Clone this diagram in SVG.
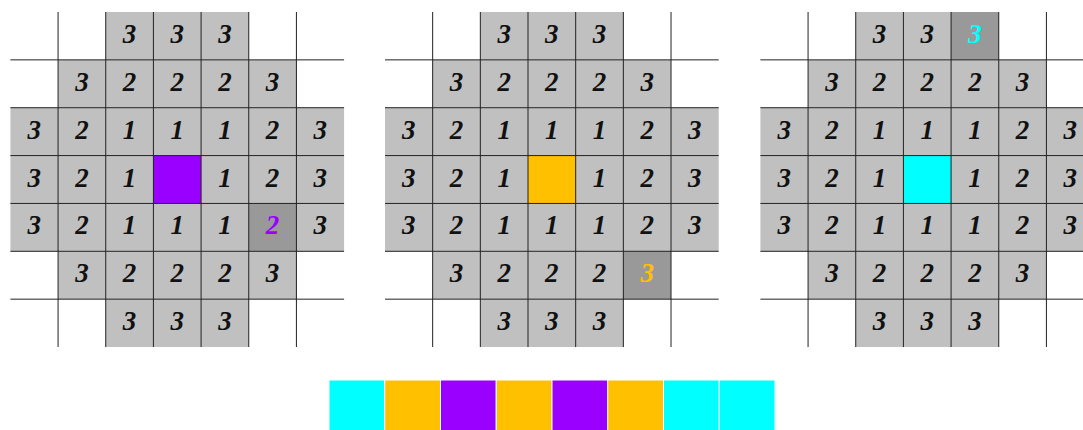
<svg xmlns="http://www.w3.org/2000/svg" width="1083" height="430" viewBox="0 0 1083 430">
<style>
.g{fill:#c0c0c0}
.hl{fill:#999999}
.ln{fill:none;stroke:#222;stroke-width:1}
.sq{stroke:#fff;stroke-width:1}
</style>
<defs>
<path id="gridlines" d="M47.67 0V335.02M95.34 0V335.02M143.01 0V335.02M190.68 0V335.02M238.35 0V335.02M286.02 0V335.02M0 47.86H333.69M0 95.72H333.69M0 143.58H333.69M0 191.44H333.69M0 239.3H333.69M0 287.16H333.69"/>
</defs>

<g id="grid1" transform="translate(10.4,12)">
<rect class="g" x="95.34" y="0" width="143.01" height="47.86"/>
<rect class="g" x="47.67" y="47.86" width="238.35" height="47.86"/>
<rect class="g" x="0" y="95.72" width="333.69" height="143.58"/>
<rect class="g" x="47.67" y="239.3" width="238.35" height="47.86"/>
<rect class="g" x="95.34" y="287.16" width="143.01" height="47.86"/>
<rect x="143.01" y="143.58" width="47.67" height="47.86" fill="#9900ff"/>
<rect class="hl" x="238.35" y="191.44" width="47.67" height="47.86"/>
<g font-family="Liberation Serif, Times New Roman, serif" font-style="italic" font-weight="bold" font-size="27" text-anchor="middle" fill="#111">
<text x="119.17" y="31">3</text><text x="166.84" y="31">3</text><text x="214.51" y="31">3</text>
<text x="71.5" y="78.86">3</text><text x="119.17" y="78.86">2</text><text x="166.84" y="78.86">2</text><text x="214.51" y="78.86">2</text><text x="262.18" y="78.86">3</text>
<text x="23.83" y="126.72">3</text><text x="71.5" y="126.72">2</text><text x="119.17" y="126.72">1</text><text x="166.84" y="126.72">1</text><text x="214.51" y="126.72">1</text><text x="262.18" y="126.72">2</text><text x="309.85" y="126.72">3</text>
<text x="23.83" y="174.58">3</text><text x="71.5" y="174.58">2</text><text x="119.17" y="174.58">1</text><text x="214.51" y="174.58">1</text><text x="262.18" y="174.58">2</text><text x="309.85" y="174.58">3</text>
<text x="23.83" y="222.44">3</text><text x="71.5" y="222.44">2</text><text x="119.17" y="222.44">1</text><text x="166.84" y="222.44">1</text><text x="214.51" y="222.44">1</text><text x="262.18" y="222.44" fill="#9900ff">2</text><text x="309.85" y="222.44">3</text>
<text x="71.5" y="270.3">3</text><text x="119.17" y="270.3">2</text><text x="166.84" y="270.3">2</text><text x="214.51" y="270.3">2</text><text x="262.18" y="270.3">3</text>
<text x="119.17" y="318.16">3</text><text x="166.84" y="318.16">3</text><text x="214.51" y="318.16">3</text>
</g>
<use href="#gridlines" class="ln"/>
</g>

<g id="grid2" transform="translate(385,12)">
<rect class="g" x="95.34" y="0" width="143.01" height="47.86"/>
<rect class="g" x="47.67" y="47.86" width="238.35" height="47.86"/>
<rect class="g" x="0" y="95.72" width="333.69" height="143.58"/>
<rect class="g" x="47.67" y="239.3" width="238.35" height="47.86"/>
<rect class="g" x="95.34" y="287.16" width="143.01" height="47.86"/>
<rect x="143.01" y="143.58" width="47.67" height="47.86" fill="#ffc000"/>
<rect class="hl" x="238.35" y="239.3" width="47.67" height="47.86"/>
<g font-family="Liberation Serif, Times New Roman, serif" font-style="italic" font-weight="bold" font-size="27" text-anchor="middle" fill="#111">
<text x="119.17" y="31">3</text><text x="166.84" y="31">3</text><text x="214.51" y="31">3</text>
<text x="71.5" y="78.86">3</text><text x="119.17" y="78.86">2</text><text x="166.84" y="78.86">2</text><text x="214.51" y="78.86">2</text><text x="262.18" y="78.86">3</text>
<text x="23.83" y="126.72">3</text><text x="71.5" y="126.72">2</text><text x="119.17" y="126.72">1</text><text x="166.84" y="126.72">1</text><text x="214.51" y="126.72">1</text><text x="262.18" y="126.72">2</text><text x="309.85" y="126.72">3</text>
<text x="23.83" y="174.58">3</text><text x="71.5" y="174.58">2</text><text x="119.17" y="174.58">1</text><text x="214.51" y="174.58">1</text><text x="262.18" y="174.58">2</text><text x="309.85" y="174.58">3</text>
<text x="23.83" y="222.44">3</text><text x="71.5" y="222.44">2</text><text x="119.17" y="222.44">1</text><text x="166.84" y="222.44">1</text><text x="214.51" y="222.44">1</text><text x="262.18" y="222.44">2</text><text x="309.85" y="222.44">3</text>
<text x="71.5" y="270.3">3</text><text x="119.17" y="270.3">2</text><text x="166.84" y="270.3">2</text><text x="214.51" y="270.3">2</text><text x="262.18" y="270.3" fill="#ffc000">3</text>
<text x="119.17" y="318.16">3</text><text x="166.84" y="318.16">3</text><text x="214.51" y="318.16">3</text>
</g>
<use href="#gridlines" class="ln"/>
</g>

<g id="grid3" transform="translate(760.4,12)">
<rect class="g" x="95.34" y="0" width="143.01" height="47.86"/>
<rect class="g" x="47.67" y="47.86" width="238.35" height="47.86"/>
<rect class="g" x="0" y="95.72" width="333.69" height="143.58"/>
<rect class="g" x="47.67" y="239.3" width="238.35" height="47.86"/>
<rect class="g" x="95.34" y="287.16" width="143.01" height="47.86"/>
<rect x="143.01" y="143.58" width="47.67" height="47.86" fill="#00ffff"/>
<rect class="hl" x="190.68" y="0" width="47.67" height="47.86"/>
<g font-family="Liberation Serif, Times New Roman, serif" font-style="italic" font-weight="bold" font-size="27" text-anchor="middle" fill="#111">
<text x="119.17" y="31">3</text><text x="166.84" y="31">3</text><text x="214.51" y="31" fill="#00ffff">3</text>
<text x="71.5" y="78.86">3</text><text x="119.17" y="78.86">2</text><text x="166.84" y="78.86">2</text><text x="214.51" y="78.86">2</text><text x="262.18" y="78.86">3</text>
<text x="23.83" y="126.72">3</text><text x="71.5" y="126.72">2</text><text x="119.17" y="126.72">1</text><text x="166.84" y="126.72">1</text><text x="214.51" y="126.72">1</text><text x="262.18" y="126.72">2</text><text x="309.85" y="126.72">3</text>
<text x="23.83" y="174.58">3</text><text x="71.5" y="174.58">2</text><text x="119.17" y="174.58">1</text><text x="214.51" y="174.58">1</text><text x="262.18" y="174.58">2</text><text x="309.85" y="174.58">3</text>
<text x="23.83" y="222.44">3</text><text x="71.5" y="222.44">2</text><text x="119.17" y="222.44">1</text><text x="166.84" y="222.44">1</text><text x="214.51" y="222.44">1</text><text x="262.18" y="222.44">2</text><text x="309.85" y="222.44">3</text>
<text x="71.5" y="270.3">3</text><text x="119.17" y="270.3">2</text><text x="166.84" y="270.3">2</text><text x="214.51" y="270.3">2</text><text x="262.18" y="270.3">3</text>
<text x="119.17" y="318.16">3</text><text x="166.84" y="318.16">3</text><text x="214.51" y="318.16">3</text>
</g>
<use href="#gridlines" class="ln"/>
</g>

<g id="strip">
<rect class="sq" x="329" y="380" width="55.75" height="51" fill="#00ffff"/>
<rect class="sq" x="384.75" y="380" width="55.75" height="51" fill="#ffc000"/>
<rect class="sq" x="440.5" y="380" width="55.75" height="51" fill="#9900ff"/>
<rect class="sq" x="496.25" y="380" width="55.75" height="51" fill="#ffc000"/>
<rect class="sq" x="552" y="380" width="55.75" height="51" fill="#9900ff"/>
<rect class="sq" x="607.75" y="380" width="55.75" height="51" fill="#ffc000"/>
<rect class="sq" x="663.5" y="380" width="55.75" height="51" fill="#00ffff"/>
<rect class="sq" x="719.25" y="380" width="55.75" height="51" fill="#00ffff"/>
</g>
</svg>
